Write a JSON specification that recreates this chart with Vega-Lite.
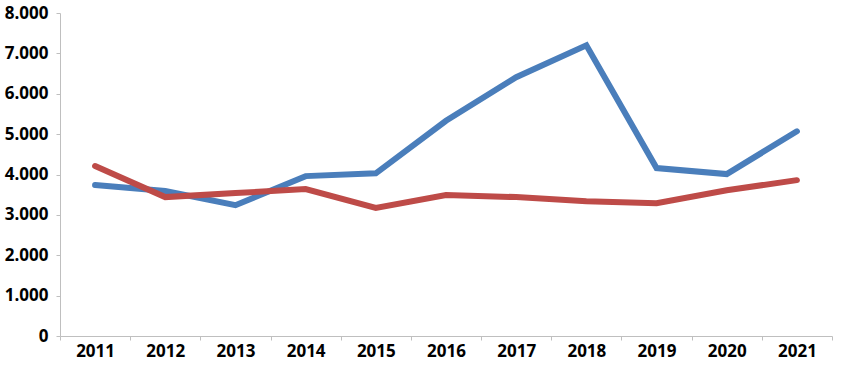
{
  "$schema": "https://vega.github.io/schema/vega-lite/v6.json",
  "autosize": "none",
  "width": 772,
  "height": 323,
  "padding": {"left": 60, "top": 13, "right": 9, "bottom": 30},
  "background": "white",
  "config": {"view": {"stroke": null}},
  "data": {"values": [
    {"year": "2011", "series": "A", "value": 3740},
    {"year": "2012", "series": "A", "value": 3590},
    {"year": "2013", "series": "A", "value": 3240},
    {"year": "2014", "series": "A", "value": 3960},
    {"year": "2015", "series": "A", "value": 4030},
    {"year": "2016", "series": "A", "value": 5330},
    {"year": "2017", "series": "A", "value": 6410},
    {"year": "2018", "series": "A", "value": 7200},
    {"year": "2019", "series": "A", "value": 4160},
    {"year": "2020", "series": "A", "value": 4010},
    {"year": "2021", "series": "A", "value": 5070},
    {"year": "2011", "series": "B", "value": 4210},
    {"year": "2012", "series": "B", "value": 3440},
    {"year": "2013", "series": "B", "value": 3540},
    {"year": "2014", "series": "B", "value": 3640},
    {"year": "2015", "series": "B", "value": 3170},
    {"year": "2016", "series": "B", "value": 3490},
    {"year": "2017", "series": "B", "value": 3440},
    {"year": "2018", "series": "B", "value": 3340},
    {"year": "2019", "series": "B", "value": 3290},
    {"year": "2020", "series": "B", "value": 3610},
    {"year": "2021", "series": "B", "value": 3860}
  ]},
  "mark": {"type": "line", "strokeWidth": 6, "strokeJoin": "miter", "strokeCap": "round"},
  "encoding": {
    "x": {
      "field": "year", "type": "ordinal", "bandPosition": 0.5,
      "scale": {"type": "band", "paddingInner": 0, "paddingOuter": 0},
      "axis": {
        "title": null, "labelAngle": 0, "tickBand": "extent",
        "domainColor": "#bfbfbf", "tickColor": "#bfbfbf", "tickSize": 4,
        "labelFont": "Open Sans", "labelFontWeight": "bold", "labelFontSize": 17,
        "labelColor": "black", "labelPadding": 3
      }
    },
    "y": {
      "field": "value", "type": "quantitative",
      "scale": {"domain": [0, 8000], "nice": false},
      "axis": {
        "title": null, "grid": false, "values": [0,1000,2000,3000,4000,5000,6000,7000,8000],
        "labelExpr": "replace(format(datum.value, ','), ',', '.')",
        "domainColor": "#bfbfbf", "tickColor": "#bfbfbf", "tickSize": 4,
        "labelFont": "Open Sans", "labelFontWeight": "bold", "labelFontSize": 17,
        "labelColor": "black", "labelPadding": 8
      }
    },
    "color": {
      "field": "series", "type": "nominal", "legend": null,
      "scale": {"domain": ["A", "B"], "range": ["#4a7ebb", "#be4b48"]}
    }
  }
}
